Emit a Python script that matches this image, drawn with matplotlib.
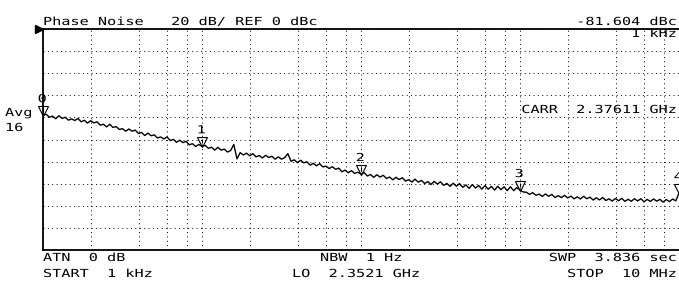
import numpy as np
import matplotlib
matplotlib.use("Agg")
import matplotlib.pyplot as plt
from matplotlib.ticker import LogLocator, MultipleLocator
from matplotlib.patheffects import AbstractPathEffect
from matplotlib.transforms import Affine2D, ScaledTranslation

# trace, 1 kHz .. 10 MHz, log sweep (dBc)
trace_dbc = [
    -78.0, -77.2, -79.8, -78.8, -81.2, -78.5, -80.9, -79.9, -82.5, -81.4,
    -82.8, -81.0, -84.0, -82.6, -85.1, -83.0, -85.0, -84.0, -87.0, -86.2,
    -88.6, -86.2, -89.1, -88.3, -90.9, -90.2, -92.5, -90.5, -92.5, -91.5,
    -94.5, -93.6, -96.4, -94.2, -96.6, -95.8, -98.6, -97.7, -99.5, -97.7,
    -100.9, -99.9, -102.5, -100.7, -102.8, -101.7, -104.8, -103.8, -106.3, -104.5,
    -106.2, -105.3, -108.0, -107.0, -109.6, -107.1, -109.6, -108.7, -111.3, -110.0,
    -104.5, -117.5, -111.9, -114.0, -112.4, -114.7, -112.9, -115.7, -114.5, -116.7,
    -114.3, -116.3, -115.2, -117.8, -115.7, -117.8, -116.4, -112.8, -119.7, -118.4,
    -120.9, -118.8, -121.1, -120.2, -123.2, -121.6, -123.8, -121.9, -124.8, -124.1,
    -126.3, -124.6, -127.0, -125.9, -129.2, -127.7, -130.1, -128.2, -130.7, -129.6,
    -131.3, -130.0, -133.0, -131.7, -134.2, -131.9, -134.0, -132.4, -135.2, -134.0,
    -136.5, -134.2, -136.2, -134.6, -137.6, -136.4, -138.5, -135.9, -138.6, -137.0,
    -139.8, -138.1, -140.7, -137.9, -140.3, -138.3, -141.5, -139.7, -142.4, -139.6,
    -142.3, -139.9, -143.3, -141.1, -144.2, -140.8, -143.9, -141.6, -144.9, -141.7,
    -145.0, -142.4, -145.8, -142.3, -145.4, -142.8, -146.3, -142.8, -146.3, -143.5,
    -145.8, -147.5, -147.7, -149.7, -148.1, -150.5, -149.4, -151.5, -149.3, -151.4,
    -149.7, -152.5, -150.8, -152.6, -150.5, -152.9, -151.2, -153.7, -151.9, -153.8,
    -151.4, -153.6, -152.2, -154.8, -152.7, -154.7, -152.5, -155.2, -153.7, -155.7,
    -153.4, -155.4, -153.2, -156.0, -154.1, -155.9, -153.6, -155.6, -153.6, -156.4,
    -154.2, -156.1, -153.8, -155.8, -154.2, -156.6, -154.4, -156.2, -153.9, -155.5,
    -148.5,
]
f_start, f_stop = 1e3, 10e6
ref_dbc, db_div, n_div = 0, 20, 10
marker_idx = [0, 50, 100, 150, 200]   # 1k, 10k, 100k, 1M, 10M

header = "Phase Noise   20 dB/ REF 0 dBc"
mkr_read = "-81.604 dBc"
mkr_freq = "1 kHz"
carr = "CARR  2.37611 GHz"
avg = ["Avg", "16"]
foot_left = ["ATN  0 dB", "START  1 kHz"]
foot_mid = ["NBW  1 Hz", "LO  2.3521 GHz"]
foot_right = ["SWP  3.836 sec", "STOP  10 MHz"]

W, H = 679, 283
FS = 8.0
PITCH = 9.15
ADV = 0.602 * FS * 100 / 72
SX = PITCH / ADV


class Widen(AbstractPathEffect):
    # stretch glyphs sideways, like the wide analyzer font
    def __init__(self, sx):
        super().__init__()
        self.sx = sx

    def draw_path(self, renderer, gc, tpath, affine, rgbFace=None):
        x0 = affine.get_matrix()[0, 2]
        a = affine + Affine2D().translate(-x0, 0).scale(self.sx, 1).translate(x0, 0)
        renderer.draw_path(gc, tpath, a, rgbFace)


txt_kw = dict(family="DejaVu Sans Mono", fontsize=FS, color="k",
              path_effects=[Widen(SX)])


def hp(x, y, s):
    fig.text(x / W, 1 - y / H, s, ha="left", va="baseline", **txt_kw)


def hp_right(xr, y, s):
    hp(xr - (len(s) - 1) * PITCH - 8.3, y, s)


fig = plt.figure(figsize=(W / 100, H / 100), dpi=100)
ax = fig.add_axes([43 / W, 1 - 250 / H, 1 - 43 / W, 221 / H])

freq = np.logspace(np.log10(f_start), np.log10(f_stop), len(trace_dbc))
ax.semilogx(freq, trace_dbc, color="k", lw=1.0)
ax.set_xlim(f_start, f_stop)
ax.set_ylim(ref_dbc - db_div * n_div, ref_dbc)

ax.xaxis.set_major_locator(LogLocator(base=10, numticks=20))
ax.xaxis.set_minor_locator(LogLocator(base=10, subs=[2, 4, 6, 8], numticks=20))
ax.yaxis.set_major_locator(MultipleLocator(db_div))
ax.tick_params(which="both", length=0, labelbottom=False, labelleft=False)
ax.grid(which="both", color="k", lw=0.7, ls=(0, (1, 3.5)))
for s in ["top", "left", "bottom"]:
    ax.spines[s].set_linewidth(1.3)
ax.spines["right"].set_visible(False)

# markers
tr = np.array(trace_dbc)
mf, mv = freq[marker_idx], tr[marker_idx]
up = ScaledTranslation(0, 4.5 / 100, fig.dpi_scale_trans)
ax.plot(mf, mv, ls="none", marker="v", ms=7, mfc="none", mec="k", mew=0.8,
        transform=ax.transData + up, clip_on=False)
up2 = ScaledTranslation(0, 5.5 / 100, fig.dpi_scale_trans)
ax.plot(mf, mv, ls="none", marker="|", ms=3, mec="k", mew=0.8,
        transform=ax.transData + up2, clip_on=False)
for i, (f, v) in enumerate(zip(mf, mv)):
    ax.annotate(str(i), (f, v), xytext=(-2, 13), textcoords="offset pixels",
                ha="center", va="baseline", annotation_clip=False, **txt_kw)

# reference level arrow
ax.plot([-0.007], [1.0], marker=">", ms=6, color="k",
        transform=ax.transAxes, clip_on=False)

hp(43, 25, header)
hp_right(676, 25, mkr_read)
hp_right(676, 37, mkr_freq)
hp_right(676, 113, carr)
hp(5, 116, avg[0])
hp(5, 131, avg[1])
hp(43, 261, foot_left[0])
hp(43, 277, foot_left[1])
hp(320, 261, foot_mid[0])
hp(292, 277, foot_mid[1])
hp_right(676, 261, foot_right[0])
hp_right(676, 277, foot_right[1])

fig.savefig("out.png", dpi=100)
